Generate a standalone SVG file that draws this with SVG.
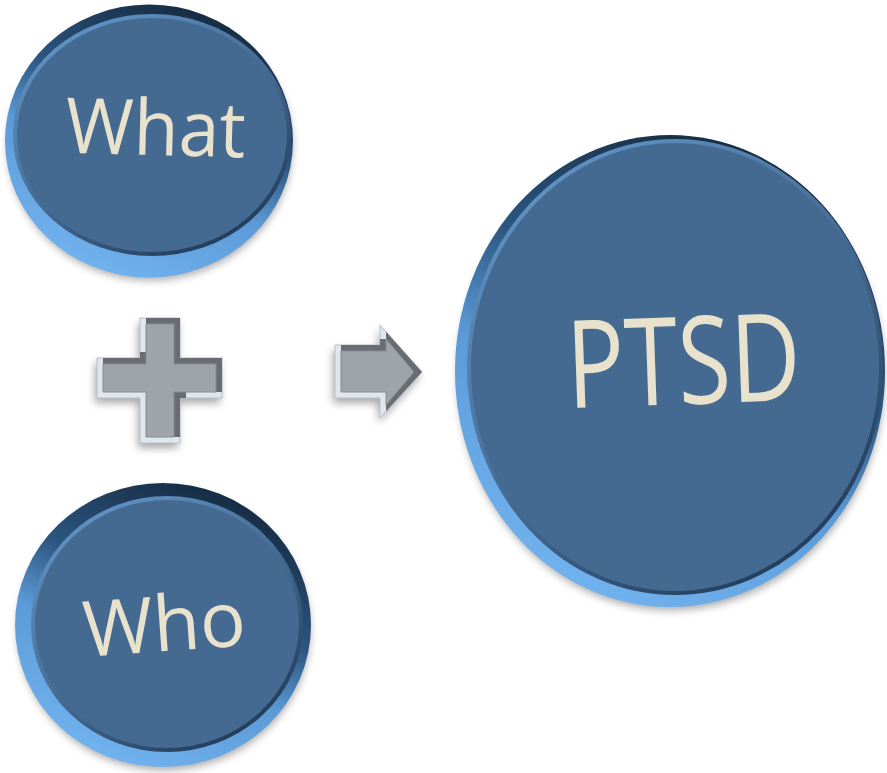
<svg xmlns="http://www.w3.org/2000/svg" width="887" height="773" viewBox="0 0 887 773">
<style>
.face{fill:#456a92;stroke:url(#edge);stroke-width:4}
.rim{fill:url(#rimg)}
.lbl{font-family:"Open Sans","Liberation Sans",sans-serif;fill:#e8e2cc;text-anchor:middle}
.shadow{fill:#000;opacity:0.35;filter:url(#blur)}
.light{fill:#dfe6ed;stroke:#b9c1c9;stroke-width:1}
.dark{fill:#676d73}
.inner{fill:#9ea4aa;stroke:#868c92;stroke-width:1}
</style>
<defs>
<linearGradient id="rimg" x1="0.75" y1="0" x2="0.3" y2="1">
<stop offset="0" stop-color="#13263a"/>
<stop offset="0.4" stop-color="#2c5680"/>
<stop offset="0.62" stop-color="#5b9ad6"/>
<stop offset="1" stop-color="#72b4f0"/>
</linearGradient>
<linearGradient id="edge" x1="0.2" y1="0.1" x2="0.8" y2="0.95">
<stop offset="0" stop-color="#5e8fc0"/>
<stop offset="0.5" stop-color="#456a92"/>
<stop offset="1" stop-color="#223c5a"/>
</linearGradient>
<filter id="blur" x="-20%" y="-20%" width="140%" height="140%"><feGaussianBlur stdDeviation="4"/></filter>
<filter id="sblur" x="-20%" y="-20%" width="140%" height="140%"><feGaussianBlur stdDeviation="3"/></filter>
<clipPath id="plusClip"><path d="M140,318 L180,318 L180,358 L222,358 L222,398 L180,398 L180,443 L140,443 L140,398 L97,398 L97,358 L140,358 Z"/></clipPath>
<clipPath id="arrowClip"><path d="M335,345 L380,345 L380,325 L422,372 L380,418 L380,398 L335,398 Z"/></clipPath>
</defs>

<g id="what">
<ellipse class="shadow" cx="150" cy="146" rx="142" ry="134"/>
<ellipse class="rim" cx="149" cy="141" rx="144" ry="136.5"/>
<ellipse class="face" cx="152" cy="135" rx="137" ry="119"/>
<text class="lbl" x="155" y="155" font-size="77" transform="rotate(1.5 155 155)" textLength="180" lengthAdjust="spacingAndGlyphs">What</text>
</g>

<g id="who">
<ellipse class="shadow" cx="164" cy="630" rx="146" ry="140"/>
<ellipse class="rim" cx="163" cy="625" rx="148" ry="142"/>
<ellipse class="face" cx="167" cy="624" rx="134" ry="126"/>
<text class="lbl" x="166" y="651" font-size="77" transform="rotate(-4 166 651)" textLength="163" lengthAdjust="spacingAndGlyphs">Who</text>
</g>

<g id="ptsd">
<ellipse class="shadow" cx="671" cy="377" rx="213" ry="233"/>
<ellipse class="rim" cx="670" cy="371" rx="215" ry="236"/>
<ellipse class="face" cx="675" cy="367" rx="206" ry="226"/>
<text class="lbl" x="685" y="404" font-size="122" transform="rotate(-2 685 404)" textLength="234" lengthAdjust="spacingAndGlyphs">PTSD</text>
</g>

<g id="connectors">
<g id="plus">
<path class="shadow" filter="url(#sblur)" opacity="0.3" d="M138,323 L178,323 L178,363 L220,363 L220,403 L178,403 L178,448 L138,448 L138,403 L95,403 L95,363 L138,363 Z"/>
<path class="light" d="M140,318 L180,318 L180,358 L222,358 L222,398 L180,398 L180,443 L140,443 L140,398 L97,398 L97,358 L140,358 Z"/>
<path class="dark" clip-path="url(#plusClip)" d="M146,312 L186,312 L186,352 L228,352 L228,392 L186,392 L186,437 L146,437 L146,392 L103,392 L103,352 L146,352 Z"/>
<path class="inner" d="M146,324 L174,324 L174,364 L216,364 L216,392 L174,392 L174,437 L146,437 L146,392 L103,392 L103,364 L146,364 Z"/>
</g>
<g id="arrow">
<path class="shadow" filter="url(#sblur)" opacity="0.3" d="M333,350 L378,350 L378,330 L420,377 L378,423 L378,403 L333,403 Z"/>
<path class="light" d="M335,345 L380,345 L380,325 L422,372 L380,418 L380,398 L335,398 Z"/>
<path class="dark" clip-path="url(#arrowClip)" d="M341,339 L386,339 L386,319 L428,366 L386,412 L386,392 L341,392 Z"/>
<path class="inner" d="M341,351 L386,351 L386,339 L414,372 L386,405 L386,392 L341,392 Z"/>
</g>
</g>
</svg>
